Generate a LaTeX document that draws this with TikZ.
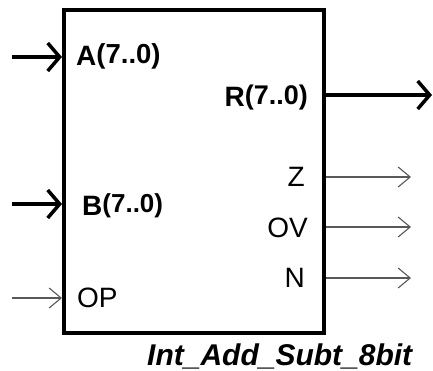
\documentclass[tikz,border=0pt]{standalone}
\usepackage{fontspec}
\setmainfont{Liberation Sans}
\usetikzlibrary{arrows.meta}

\begin{document}
\begin{tikzpicture}[
  x=1pt,
  y=-1pt,
  block/.style={draw=black,line width=4pt,rectangle,inner sep=0pt,
    minimum width=260pt,minimum height=323pt},
  bus/.style={line width=3.5pt,-{Straight Barb[length=12pt,width=28pt]}},
  sig/.style={line width=1.1pt,draw=black!65,-{Straight Barb[length=12pt,width=20pt]}},
  port/.style={font=\fontsize{28pt}{30pt}\selectfont,inner sep=0pt},
  bport/.style={font=\fontsize{28pt}{30pt}\selectfont\bfseries,inner sep=0pt},
  title/.style={font=\fontsize{30pt}{32pt}\selectfont\bfseries\itshape,inner sep=0pt}
]
\useasboundingbox (0,0) rectangle (433,371);

\node[block] (blk) at (194,171.5) {};

% inputs
\coordinate (a in) at (12,57);
\coordinate (b in) at (12,204);
\coordinate (op in) at (12,298);
\draw[bus] (a in) -- (a in -| blk.west);
\draw[bus] (b in) -- (b in -| blk.west);
\draw[sig] (op in) -- (op in -| blk.west);

% outputs
\coordinate (r out) at (432,95);
\coordinate (z out) at (411,177);
\coordinate (ov out) at (411,227);
\coordinate (n out) at (411,278);
\draw[bus] (r out -| blk.east) -- (r out);
\draw[sig] (z out -| blk.east) -- (z out);
\draw[sig] (ov out -| blk.east) -- (ov out);
\draw[sig] (n out -| blk.east) -- (n out);

% port names
\node[bport,anchor=base west] (a lab) at (76,66)
  {A\raisebox{2pt}{\fontsize{27.5pt}{29pt}\selectfont(7..0)}};
\node[bport,anchor=base west] (b lab) at (82,215)
  {B\raisebox{2pt}{\fontsize{26pt}{28pt}\selectfont(7..0)}};
\node[port,anchor=base west] (op lab) at (77,307) {OP};
\node[bport,anchor=base east] (r lab) at (308,107)
  {R\raisebox{2pt}{\fontsize{27pt}{29pt}\selectfont(7..0)}};
\node[port,anchor=base east] (z lab) at (305,187) {Z};
\node[port,anchor=base east] (ov lab) at (308,237) {OV};
\node[port,anchor=base east] (n lab) at (305,287) {N};

\node[title,anchor=base west] (name) at (147,365) {Int\_Add\_Subt\_8bit};
\end{tikzpicture}
\end{document}
